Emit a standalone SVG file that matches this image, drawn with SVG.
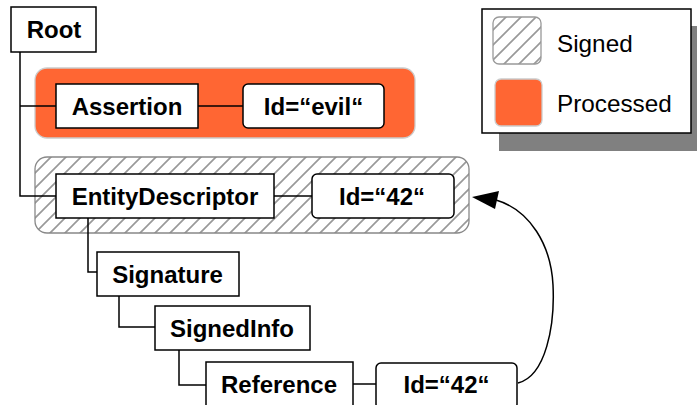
<svg xmlns="http://www.w3.org/2000/svg" width="697" height="405" viewBox="0 0 697 405">
<style>
.node{fill:#fff;stroke:#000;stroke-width:1.5}
.lbl{font-family:"Liberation Sans",Arial,sans-serif;font-weight:bold;font-size:24px;text-anchor:middle;fill:#000}
.leg{font-family:"Liberation Sans",Arial,sans-serif;font-size:24.3px;fill:#000}
.conn{fill:none;stroke:#000;stroke-width:1.5}
.head{fill:#000;stroke:none}
</style>
<defs>
<pattern id="hatch" patternUnits="userSpaceOnUse" x="-2" y="0" width="15" height="15">
<path d="M-4,4 L4,-4 M0,15 L15,0 M11,19 L19,11" stroke="#999" stroke-width="1.7"/>
</pattern>
</defs>
<g id="legend">
<rect x="499" y="26" width="209" height="125" fill="#808080"/>
<rect x="482" y="9" width="209" height="124" fill="#fff" stroke="#000" stroke-width="1.5"/>
<rect x="493" y="17" width="48" height="47" rx="6" fill="url(#hatch)" stroke="#999" stroke-width="1.3"/>
<text class="leg" x="557" y="52">Signed</text>
<rect x="495" y="79" width="47" height="47" rx="6" fill="#ff6633" stroke="#ccc" stroke-width="1.3"/>
<text class="leg" x="557" y="112">Processed</text>
</g>
<g id="processed-region">
<rect x="35" y="68" width="380" height="70" rx="12" fill="#ff6633" stroke="#ccc" stroke-width="1.3"/>
</g>
<g id="signed-region">
<rect x="35" y="157" width="434" height="76" rx="12" fill="#fff" stroke="none"/>
<rect x="35" y="157" width="434" height="76" rx="12" fill="url(#hatch)" stroke="#888" stroke-width="1.3"/>
</g>
<g id="connectors">
<path class="conn" d="M20,52 V196 H56 M20,106 H56"/>
<path class="conn" d="M198,106 H243"/>
<path class="conn" d="M274,196 H312"/>
<path class="conn" d="M88,218 V272 H97"/>
<path class="conn" d="M119,296 V327 H155"/>
<path class="conn" d="M179,350 V385 H206"/>
<path class="conn" d="M353,384 H376"/>
<path class="conn" d="M518,383 C546,376 555,325 553,285 C551,245 530,210 496,200"/>
<path class="head" d="M472,197 L499,191 L495,209 Z"/>
</g>
<g id="root">
<rect class="node" x="11" y="7" width="85" height="45"/>
<text class="lbl" x="54" y="38">Root</text>
</g>
<g id="assertion">
<rect class="node" x="56" y="84" width="142" height="44"/>
<text class="lbl" x="127" y="114.5">Assertion</text>
</g>
<g id="id-evil">
<rect class="node" x="243" y="84" width="141" height="44" rx="5"/>
<text class="lbl" x="313.5" y="114.5">Id=“evil“</text>
</g>
<g id="entitydescriptor">
<rect class="node" x="56" y="174" width="218" height="44"/>
<text class="lbl" x="165" y="204.5">EntityDescriptor</text>
</g>
<g id="id-42-top">
<rect class="node" x="312" y="174" width="142" height="44" rx="5"/>
<text class="lbl" x="382" y="204.5">Id=“42“</text>
</g>
<g id="signature">
<rect class="node" x="97" y="252" width="142" height="44"/>
<text class="lbl" x="167.5" y="282.5">Signature</text>
</g>
<g id="signedinfo">
<rect class="node" x="155" y="306" width="155" height="44"/>
<text class="lbl" x="232" y="336.5">SignedInfo</text>
</g>
<g id="reference">
<rect class="node" x="206" y="362" width="147" height="46"/>
<text class="lbl" x="279" y="392.5">Reference</text>
</g>
<g id="id-42-bottom">
<rect class="node" x="376" y="363" width="141" height="46" rx="5"/>
<text class="lbl" x="446.5" y="392.5">Id=“42“</text>
</g>
</svg>
